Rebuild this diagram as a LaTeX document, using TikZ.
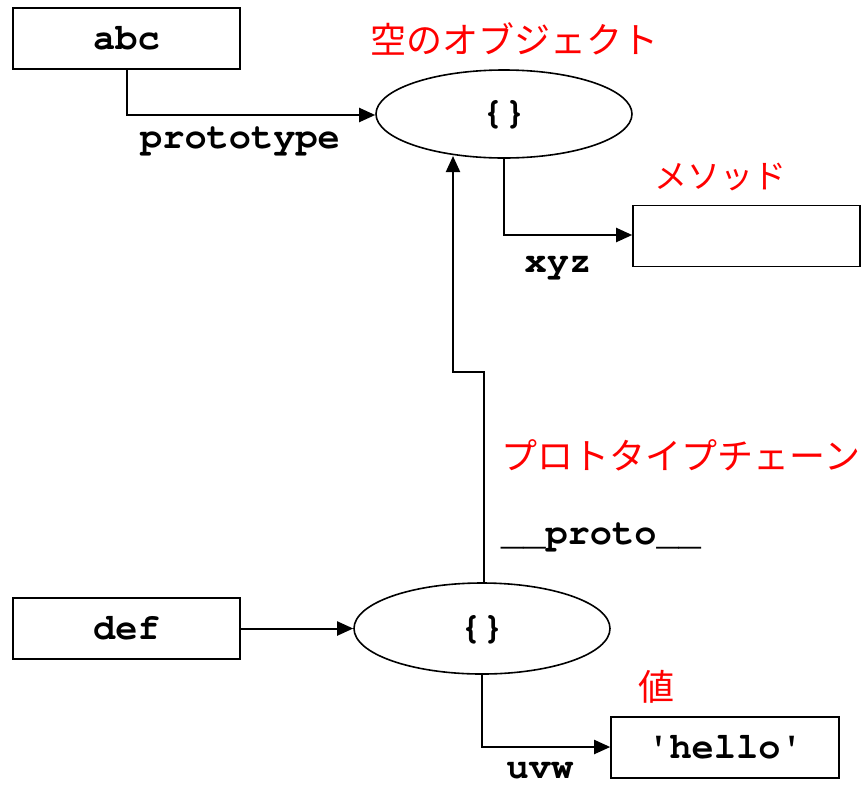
\documentclass[tikz,border=0pt]{standalone}
\usepackage{fontspec}
\usepackage[T1,TU]{fontenc}
\newfontfamily\jpfont{Noto Sans CJK JP}
\usetikzlibrary{arrows.meta,shapes.geometric}

% bold Courier for the code labels
\newcommand{\codestyle}{\fontencoding{T1}\fontfamily{pcr}\fontseries{b}\fontsize{37}{40}\selectfont}

\tikzset{
  codetext/.style={font=\codestyle, inner sep=0pt},
  jptext/.style={font=\jpfont\fontsize{36}{40}\selectfont, text=red, inner sep=0pt},
  objbox/.style={draw, line width=1.6pt, rectangle, minimum width=227pt, minimum height=61pt, inner sep=0pt,
                 font=\codestyle},
  objell/.style={draw, line width=1.6pt, ellipse, minimum width=256pt, minimum height=88pt, inner sep=0pt,
                 font=\codestyle},
  link/.style={line width=2pt, -{Triangle[length=16pt,width=14pt]}}
}

\begin{document}
\begin{tikzpicture}[x=1pt,y=-1pt]
  \useasboundingbox (0,0) rectangle (861,785);

  % upper part: constructor, shared prototype object, method
  \node[objbox] (abc) at (126.5,38.5) {abc};
  \node[objell] (proto) at (504,114) {\{\}};
  \node[objbox] (method) at (746.5,236) {};

  % lower part: constructor, instance, value
  \node[objbox] (def) at (126.5,628.5) {def};
  \node[objell, minimum width=256pt, minimum height=91pt] (inst) at (482,628.5) {\{\}};
  \node[objbox, minimum width=228pt] (hello) at (725,747.5) {\textquotesingle hello\textquotesingle};

  % connectors
  \coordinate (c1) at (126.5,115);
  \draw[link] (abc.south) -- (c1) -- (proto.west |- c1);

  \coordinate (c2) at (504,235);
  \draw[link] (proto.south) -- (c2) -- (method.west |- c2);

  \draw[link] (def.east) -- (inst.west);

  \coordinate (c3) at (482,747);
  \draw[link] (inst.south) -- (c3) -- (hello.west |- c3);

  \coordinate (c4) at (484,372);
  \coordinate (c5) at (453,372);
  \coordinate (c6) at (453,156);
  \draw[link] (inst.north -| c4) -- (c4) -- (c5) -- (c6);

  % connector labels
  \node[codetext, anchor=base] (lproto) at (240,148) {prototype};
  \node[codetext, anchor=base] (lxyz) at (558,272) {xyz};
  \node[codetext, anchor=base] (lchain) at (601,544) {\_\_proto\_\_};
  \node[codetext, anchor=base] (luvw) at (540,778) {uvw};

  % red annotations
  \node[jptext] (tempty) at (514,39) {空のオブジェクト};
  \node[jptext, font=\jpfont\fontsize{33}{36}\selectfont] (tmethod) at (720,177) {メソッド};
  \node[jptext] (tchain) at (681,455) {プロトタイプチェーン};
  \node[jptext] (tvalue) at (656,687) {値};
\end{tikzpicture}
\end{document}
